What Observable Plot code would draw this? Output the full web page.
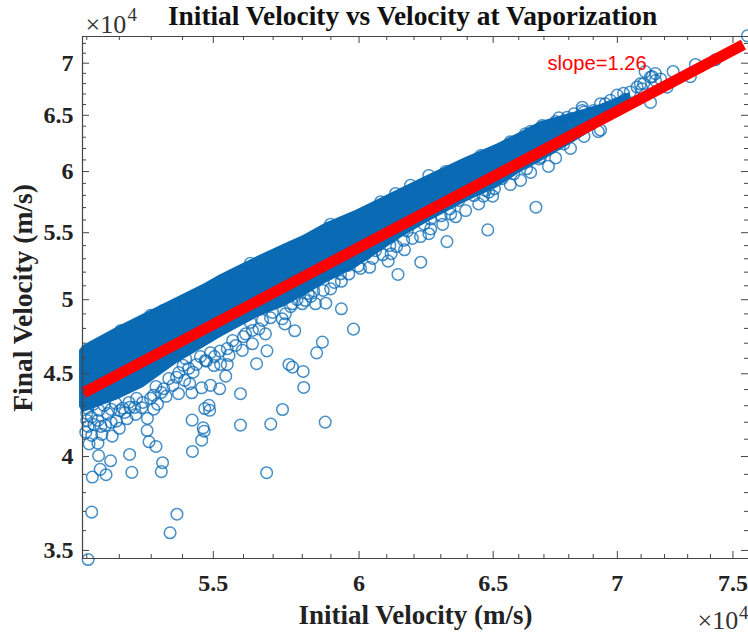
<!DOCTYPE html>
<html>
<head>
<meta charset="utf-8">
<script src="https://cdn.jsdelivr.net/npm/d3@7"></script>
<script src="https://cdn.jsdelivr.net/npm/@observablehq/plot@0.6"></script>
<style>
html,body{margin:0;padding:0;background:#fff;overflow:hidden}
svg{display:block}
</style>
</head>
<body>
<div id="chart"></div>
<script>
// all velocities in units of 10^4 m/s
const xDomain = [5.087, 7.57];
const yDomain = [3.46, 7.271];
const xMajor = [5.5, 6, 6.5, 7, 7.5];
const xMinor = [5.1,5.2,5.3,5.4,5.6,5.7,5.8,5.9,6.1,6.2,6.3,6.4,6.6,6.7,6.8,6.9,7.1,7.2,7.3,7.4];
const yMajor = [3.5, 4, 4.5, 5, 5.5, 6, 6.5, 7];
const yMinor = [3.6,3.7,3.8,3.9,4.1,4.2,4.3,4.4,4.6,4.7,4.8,4.9,5.1,5.2,5.3,5.4,5.6,5.7,5.8,5.9,6.1,6.2,6.3,6.4,6.6,6.7,6.8,6.9,7.1,7.2];

// the dense part of the cloud, where circles merge to a solid band
const bandX   = [5.078,5.090,5.192,5.276,5.382,5.470,5.519,5.567,5.654,5.735,5.804,5.881,5.988,6.151,6.250,6.386,6.518,6.607,6.686,6.819,6.930,7.054];
const bandTop = [4.652,4.685,4.806,4.900,5.015,5.113,5.175,5.228,5.325,5.409,5.478,5.574,5.677,5.858,5.967,6.112,6.243,6.344,6.440,6.526,6.601,6.715];
const bandLow = [4.290,4.259,4.333,4.413,4.566,4.671,4.731,4.786,4.882,4.946,5.023,5.117,5.228,5.456,5.580,5.736,5.866,5.992,6.083,6.252,6.405,6.590];

// individually visible circles
const ptX = [5.104,5.115,5.382,5.360,5.117,5.141,5.159,5.173,5.136,5.232,5.239,5.332,5.336,5.678,5.432,5.462,5.315,5.293,5.287,5.288,5.431,5.467,5.470,5.590,5.692,5.732,5.488,5.486,5.308,5.270,5.251,5.224,5.200,5.178,5.146,5.157,5.191,5.097,5.107,5.134,5.104,5.100,5.115,5.114,5.164,5.134,
5.387,5.430,5.472,5.462,5.381,5.407,5.423,5.434,5.402,5.340,5.307,5.233,5.202,5.474,
5.590,5.644,5.679,5.754,5.766,5.803,5.805,5.774,5.740,5.850,5.870,5.541,5.521,5.491,5.477,5.502,5.524,5.546,5.552,5.522,5.596,5.574,5.630,5.607,5.674,5.652,5.691,5.742,5.731,5.800,5.846,5.811,5.821,5.766,
5.937,5.882,5.899,5.937,5.996,6.038,6.105,6.116,6.165,6.141,6.225,6.162,6.111,6.255,6.175,6.059,6.024,5.959,5.934,5.840,
6.668,6.479,6.323,5.980,5.880,6.262,6.237,6.262,6.301,6.337,6.334,6.426,6.462,6.498,6.505,6.470,6.483,6.535,6.581,6.631,6.680,6.368,
6.747,6.921,6.862,6.930,7.140,7.211,7.237,7.312,7.334,7.422,7.565,6.760,7.147,7.161,7.097,6.999,6.930,6.855,6.693,6.626,6.686,6.780,6.794,6.767,6.821,6.855,6.862,6.902,6.950,6.971,7.026,7.083,7.111,7.140,7.054,7.104,7.033,7.183,7.117,7.161,
5.340,5.375,6.255,
// lower fringe of the cloud
5.100,5.119,5.137,5.153,5.175,5.189,5.211,5.230,5.248,5.100,5.122,5.143,5.175,5.217,5.273,5.298,5.320,5.254,5.347,5.369,5.332,5.315,5.356,5.388,5.420,5.445,5.410,5.458,5.491,5.504,5.546,5.564,5.600,5.630,5.623,5.664,5.698,5.760,5.782,5.830,5.873,5.912,5.963,6.005,6.049,6.085,6.136,6.194,6.224,6.307,6.356,6.394,6.444,6.567,6.607,6.718,6.647,6.807,
// upper fringe of the cloud
6.078,6.132,6.187,6.318,6.452,6.567,6.647,6.747,5.205,5.298,5.623,5.899];
const ptY = [3.455,3.696,3.685,3.589,3.885,3.928,3.898,3.976,4.005,4.012,3.911,3.915,3.965,3.909,4.029,4.094,4.058,4.085,4.151,4.223,4.213,4.167,4.147,4.183,4.189,4.277,4.272,4.302,4.279,4.288,4.247,4.221,4.164,4.118,4.128,4.181,4.207,4.141,4.073,4.077,4.175,4.253,4.122,4.231,4.252,4.211,
4.374,4.380,4.283,4.411,4.478,4.458,4.437,4.510,4.554,4.405,4.364,4.290,4.270,4.586,
4.374,4.565,4.649,4.560,4.543,4.515,4.413,4.784,4.831,4.636,4.707,4.485,4.405,4.426,4.581,4.553,4.560,4.560,4.619,4.647,4.652,4.685,4.696,4.763,4.763,4.797,4.873,4.901,4.866,4.971,4.971,4.994,5.044,4.971,
4.936,4.975,5.078,5.133,5.244,5.236,5.282,5.338,5.368,5.183,5.274,5.440,5.401,5.492,5.512,5.362,5.337,5.249,5.188,5.063,
5.703,5.522,5.431,4.795,4.201,5.530,5.568,5.608,5.634,5.648,5.690,5.799,5.794,5.794,5.855,5.841,5.827,5.939,5.981,6.024,6.109,5.758,
6.117,6.351,6.308,6.365,6.620,6.765,6.918,6.868,6.987,7.034,7.278,6.477,6.868,6.829,6.797,6.689,6.608,6.545,6.406,6.330,6.123,6.241,6.482,6.421,6.514,6.575,6.529,6.545,6.608,6.640,6.706,6.767,6.799,6.863,6.718,6.750,6.650,6.845,6.917,6.897,
4.926,4.960,5.967,
4.285,4.308,4.272,4.302,4.278,4.314,4.285,4.320,4.290,4.211,4.187,4.175,4.199,4.259,4.320,4.345,4.310,4.345,4.358,4.426,4.382,4.419,4.469,4.508,4.535,4.560,4.598,4.611,4.637,4.611,4.664,4.717,4.744,4.786,4.841,4.855,4.910,4.951,5.001,5.023,5.066,5.125,5.186,5.228,5.303,5.330,5.393,5.456,5.470,5.566,5.626,5.676,5.730,5.890,5.925,6.044,5.992,6.201,
5.748,5.816,5.883,6.000,6.138,6.260,6.354,6.443,4.786,4.890,5.265,5.567];

const fitX = [5.090, 7.547];
const fitY = [4.379, 7.188];

const titleText = "Initial Velocity vs Velocity at Vaporization";
const xLabel = "Initial Velocity (m/s)";
const yLabel = "Final Velocity (m/s)";
const slopeLabel = "slope=1.26";

const W = 666, H = 522;
const serif = "'Liberation Serif','Times New Roman',serif";
const blue = "#0a6ab4", axisColor = "#444";
const labelStyle = {fontFamily: serif, fontWeight: "bold", fill: "#222", fontSize: 24};
const multStyle = {fontFamily: serif, fill: "#333", fontSize: 26};
const idx = d3.range(bandX.length);
const pts = d3.range(ptX.length);

const chart = Plot.plot({
  width: 748, height: 634,
  marginLeft: 82, marginRight: 0, marginTop: 36, marginBottom: 76,
  style: {background: "#fff"},
  x: {type: "log", domain: xDomain},
  y: {type: "log", domain: yDomain},
  marks: [
    Plot.areaY(idx, {x: i => bandX[i], y1: i => bandLow[i], y2: i => bandTop[i], fill: blue, curve: "linear"}),
    Plot.dot(pts, {x: i => ptX[i], y: i => ptY[i], r: 5.8, stroke: blue, strokeWidth: 1.5, strokeOpacity: 0.75, fill: "none"}),
    Plot.line(fitX.map((x, i) => [x, fitY[i]]), {x: d => d[0], y: d => d[1], stroke: "#ff0000", strokeWidth: 11, strokeLinecap: "butt"}),
    // frame (left, top, bottom; the right side runs off the picture)
    Plot.ruleX([xDomain[0]], {stroke: axisColor, strokeWidth: 1.2}),
    Plot.ruleY([yDomain], {y: d => d[0], stroke: axisColor, strokeWidth: 1.2}),
    Plot.ruleY([yDomain], {y: d => d[1], stroke: axisColor, strokeWidth: 1.2}),
    // inward ticks on all sides
    Plot.ruleX(xMajor, {insetTop: H - 7, stroke: axisColor}),
    Plot.ruleX(xMinor, {insetTop: H - 4, stroke: axisColor}),
    Plot.ruleX(xMajor, {insetBottom: H - 7, stroke: axisColor}),
    Plot.ruleX(xMinor, {insetBottom: H - 4, stroke: axisColor}),
    Plot.ruleY(yMajor, {insetRight: W - 7, stroke: axisColor}),
    Plot.ruleY(yMinor, {insetRight: W - 4, stroke: axisColor}),
    Plot.ruleY(yMajor, {insetLeft: W - 7, stroke: axisColor}),
    Plot.ruleY(yMinor, {insetLeft: W - 4, stroke: axisColor}),
    // tick labels
    Plot.axisX({anchor: "bottom", ticks: xMajor, tickFormat: d => String(d), tickSize: 0, tickPadding: 15, label: null, ...labelStyle}),
    Plot.axisY({anchor: "left", ticks: yMajor, tickFormat: d => String(d), tickSize: 0, tickPadding: 9, label: null, ...labelStyle}),
    // titles
    Plot.text([titleText], {frameAnchor: "top", dy: -20, dx: -3, lineAnchor: "middle", fontFamily: serif, fontWeight: "bold", fill: "#111", fontSize: 27.4}),
    Plot.text([xLabel], {frameAnchor: "bottom", dy: 57, lineAnchor: "middle", fontFamily: serif, fontWeight: "bold", fill: "#222", fontSize: 27}),
    Plot.text([yLabel], {frameAnchor: "left", dx: -59, dy: 0.5, rotate: -90, textAnchor: "middle", lineAnchor: "middle", fontFamily: serif, fontWeight: "bold", fill: "#222", fontSize: 27.5}),
    // exponents
    Plot.text(["×10"], {frameAnchor: "top-left", dx: 3, dy: -4, textAnchor: "start", lineAnchor: "bottom", ...multStyle}),
    Plot.text(["4"], {frameAnchor: "top-left", dx: 45, dy: -16, textAnchor: "start", lineAnchor: "bottom", ...multStyle, fontSize: 19}),
    Plot.text(["×10"], {frameAnchor: "bottom-right", dx: -51, dy: 70, textAnchor: "start", lineAnchor: "bottom", ...multStyle}),
    Plot.text(["4"], {frameAnchor: "bottom-right", dx: -9.5, dy: 60, textAnchor: "start", lineAnchor: "bottom", ...multStyle, fontSize: 19}),
    // annotation
    Plot.text([slopeLabel], {x: () => 6.714, y: () => 6.997, textAnchor: "start", lineAnchor: "middle", fontFamily: "'Liberation Sans',Arial,sans-serif", fill: "#ff0000", fontSize: 20.2})
  ]
});
document.getElementById("chart").append(chart);
</script>
</body>
</html>
